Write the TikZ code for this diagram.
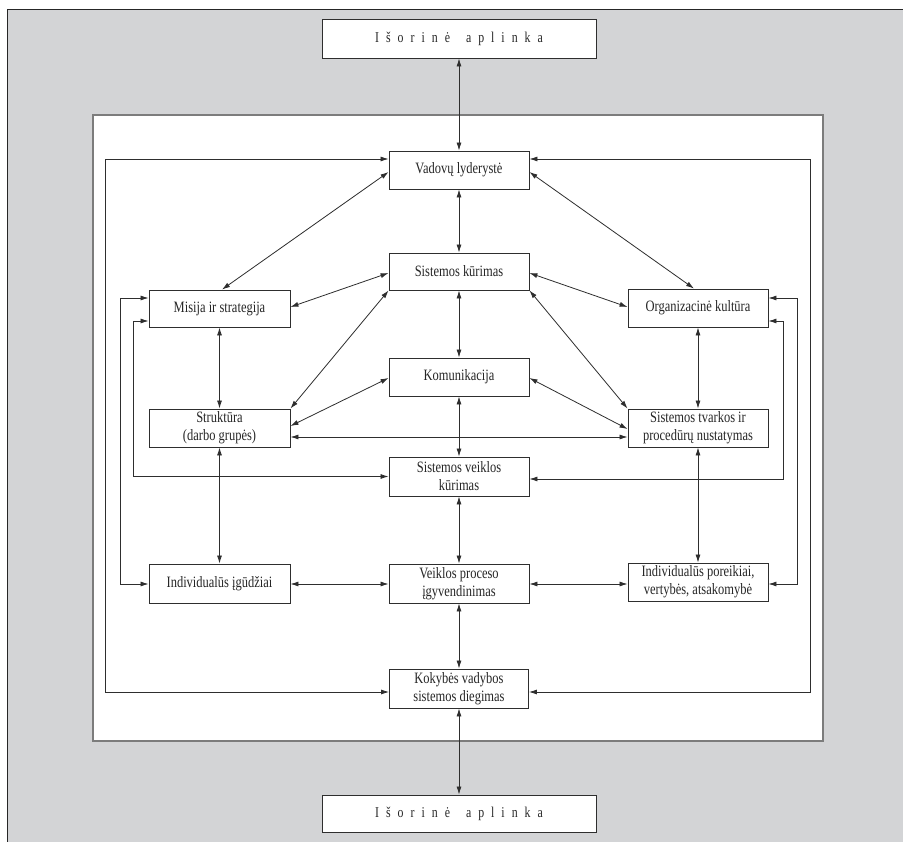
\documentclass[tikz,border=0pt]{standalone}
\usepackage{fontspec}
\setmainfont{Liberation Serif}[FakeStretch=0.79]
\usetikzlibrary{arrows.meta}
\definecolor{bggray}{HTML}{D3D4D6}
\definecolor{panelline}{HTML}{7C7C7C}
\definecolor{inkline}{HTML}{2E2E2E}
\newcommand{\ls}{\kern7pt}
\begin{document}
\begin{tikzpicture}[x=1pt,y=-1pt,
  box/.style={draw=inkline,line width=0.9pt,fill=white,inner sep=0pt,
    align=center,font=\fontsize{15.8}{18}\selectfont,text=black!85},
  wide/.style={box,minimum width=274pt,font=\fontsize{15}{16}\selectfont},
  link/.style={draw=inkline,line width=0.8pt,
    {Latex[length=8pt,width=5pt]}-{Latex[length=8pt,width=5pt]}}]
\useasboundingbox (0,0) rectangle (903,842);
\begin{scope}
\clip (0,0) rectangle (903,842);
% grey sheet behind everything
\fill[bggray] (7,10) rectangle (910,850);
\draw[black!85,line width=1pt] (7,850) -- (7,10) -- (910,10);
% white panel holding the model
\draw[panelline,line width=1.6pt,fill=white] (93,115) rectangle (823,741);
\end{scope}

% boxes
\node[wide,minimum height=39pt] (top) at (459,38.5)
  {I\ls š\ls o\ls r\ls i\ls n\ls ė\kern16pt a\ls p\ls l\ls i\ls n\ls k\ls a};
\node[box,minimum width=140pt,minimum height=38pt] (vad) at (459,170) {Vadovų lyderystė};
\node[box,minimum width=140pt,minimum height=37pt] (sk) at (459,271.5) {Sistemos kūrimas};
\node[box,minimum width=141pt,minimum height=37pt] (mis) at (219.5,308.5) {Misija ir strategija};
\node[box,minimum width=140pt,minimum height=38pt] (org) at (698,308) {Organizacinė kultūra};
\node[box,minimum width=140pt,minimum height=38pt] (kom) at (459,377) {Komunikacija};
\node[box,minimum width=141pt,minimum height=38pt] (str) at (219.5,428) {Struktūra\\(darbo grupės)};
\node[box,minimum width=140pt,minimum height=38pt] (stv) at (698,428) {Sistemos tvarkos ir\\procedūrų nustatymas};
\node[box,minimum width=140pt,minimum height=39pt] (svk) at (459,476.5) {Sistemos veiklos\\kūrimas};
\node[box,minimum width=141pt,minimum height=39pt] (ind) at (219.5,583.5) {Individualūs įgūdžiai};
\node[box,minimum width=140pt,minimum height=39pt] (vpi) at (459,583.5) {Veiklos proceso\\įgyvendinimas};
\node[box,minimum width=140pt,minimum height=38pt] (ipv) at (698,582) {Individualūs poreikiai,\\vertybės, atsakomybė};
\node[box,minimum width=139pt,minimum height=39pt] (kvs) at (459,688.5) {Kokybės vadybos\\sistemos diegimas};
\node[wide,minimum height=37pt] (bot) at (459,813.5)
  {I\ls š\ls o\ls r\ls i\ls n\ls ė\kern16pt a\ls p\ls l\ls i\ls n\ls k\ls a};

% central column
\draw[link] (top) -- (vad);
\draw[link] (vad) -- (sk);
\draw[link] (sk) -- (kom);
\draw[link] (kom) -- (svk);
\draw[link] (svk) -- (vpi);
\draw[link] (vpi) -- (kvs);
\draw[link] (kvs) -- (bot);

% side columns
\draw[link] (mis) -- (str);
\draw[link] (str) -- (ind);
\draw[link] (org) -- (stv);
\draw[link] (stv) -- (ipv);

% diagonals
\draw[link] ([yshift=-2pt]vad.west) -- ([xshift=2.5pt]mis.north);
\draw[link] ([yshift=-2pt]vad.east) -- ([xshift=-4pt]org.north);
\draw[link] ([yshift=-1.5pt]sk.west) -- ([yshift=1.5pt]mis.east);
\draw[link] ([yshift=-1.5pt]sk.east) -- ([yshift=1pt]org.west);
\draw[link] (sk.south west) -- (str.north east);
\draw[link] (sk.south east) -- (stv.north west);
\draw[link] ([yshift=-1pt]kom.west) -- ([yshift=2pt]str.east);
\draw[link] ([yshift=-1pt]kom.east) -- ([yshift=-1pt]stv.west);
\draw[link] ([yshift=-9pt]str.east) -- ([yshift=-9pt]stv.west);

% bottom row
\coordinate (rowY) at (0,584);
\draw[link] (ind.east |- rowY) -- (vpi.west |- rowY);
\draw[link] (vpi.east |- rowY) -- (ipv.west |- rowY);

% feedback rails
\coordinate (railA) at (105,0);
\coordinate (railB) at (120,0);
\coordinate (railC) at (133,0);
\coordinate (railD) at (783,0);
\coordinate (railE) at (797,0);
\coordinate (railF) at (810,0);

\coordinate (vadL) at ([yshift=11pt]vad.west);
\coordinate (vadR) at ([yshift=11pt]vad.east);
\coordinate (kvsL) at ([yshift=-3.5pt]kvs.west);
\coordinate (kvsR) at ([yshift=-3.5pt]kvs.east);
\coordinate (misA) at ([yshift=10.5pt]mis.west);
\coordinate (misB) at ([yshift=-12.5pt]mis.west);
\coordinate (orgA) at ([yshift=10pt]org.east);
\coordinate (orgB) at ([yshift=-13pt]org.east);
\coordinate (svkL) at (svk.west);
\coordinate (svkR) at ([yshift=-2.5pt]svk.east);
\coordinate (indL) at (ind.west |- rowY);
\coordinate (ipvR) at (ipv.east |- rowY);

\draw[link] (vadL) -- (vadL -| railA) -- (kvsL -| railA) -- (kvsL);
\draw[link] (misA) -- (misA -| railB) -- (indL -| railB) -- (indL);
\draw[link] (misB) -- (misB -| railC) -- (svkL -| railC) -- (svkL);
\draw[link] (vadR) -- (vadR -| railF) -- (kvsR -| railF) -- (kvsR);
\draw[link] (orgA) -- (orgA -| railE) -- (ipvR -| railE) -- (ipvR);
\draw[link] (orgB) -- (orgB -| railD) -- (svkR -| railD) -- (svkR);
\end{tikzpicture}
\end{document}
